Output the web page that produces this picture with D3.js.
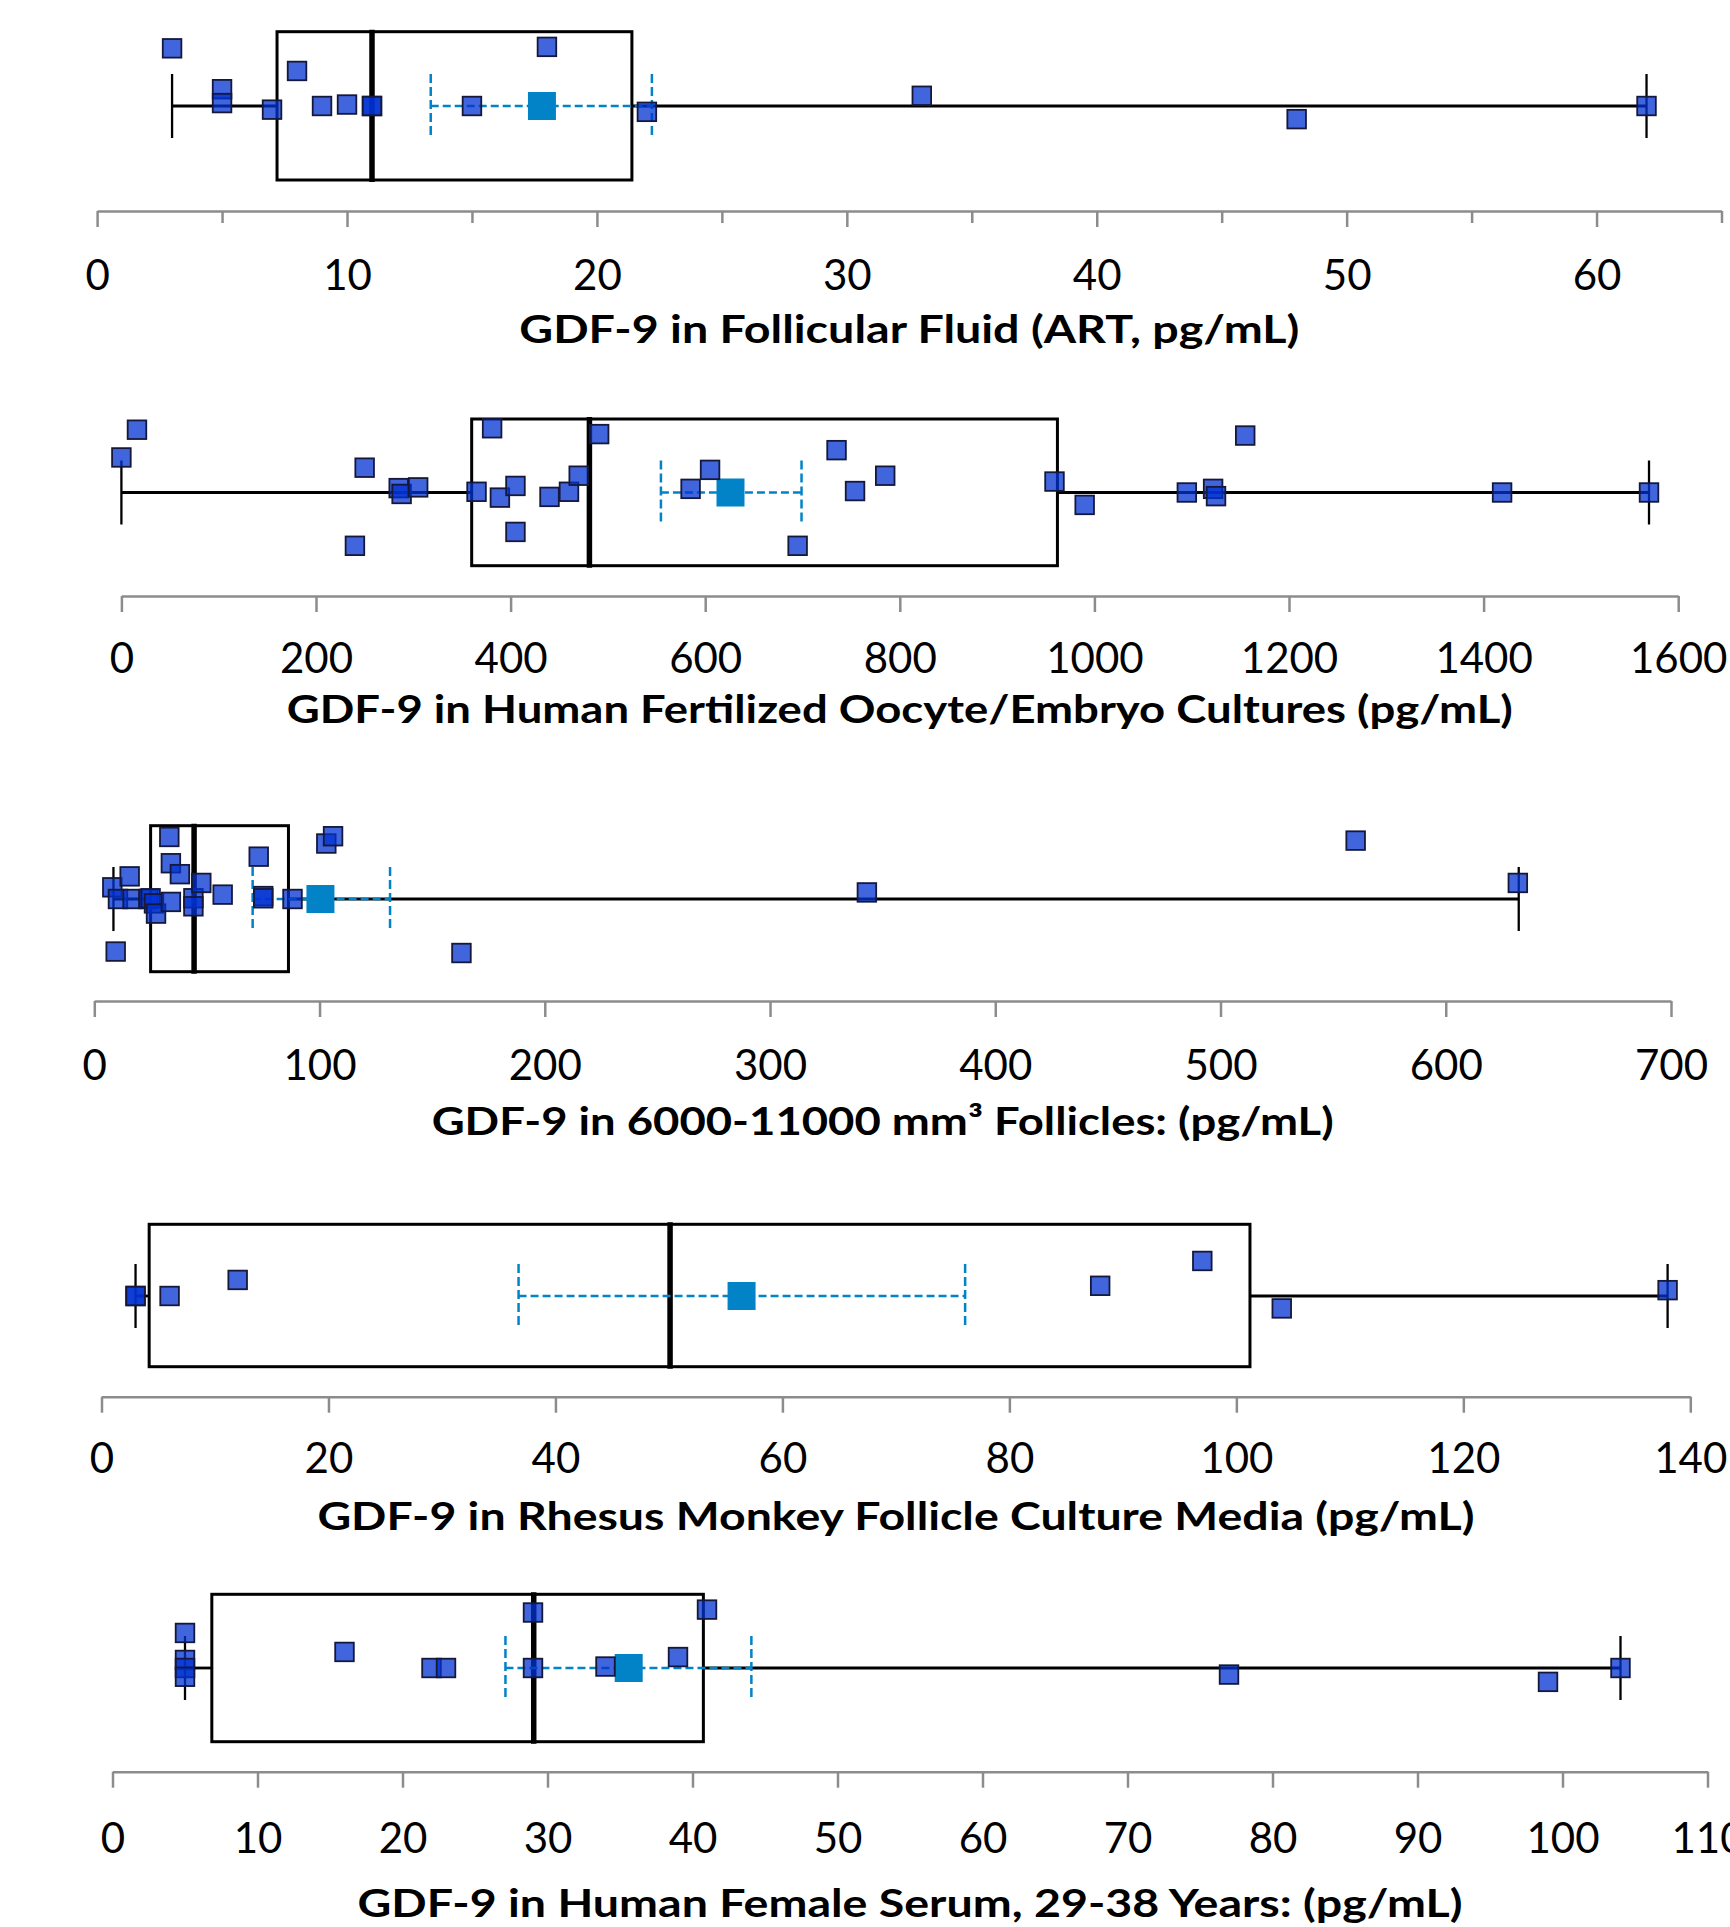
<!DOCTYPE html>
<html><head><meta charset="utf-8">
<script src="https://cdn.jsdelivr.net/npm/d3@7"></script>
<style>html,body{margin:0;padding:0;background:#fff;} svg{display:block;}</style>
</head><body><svg id="chart" width="1730" height="1927"></svg>
<script>
// ---------- DATA ----------
// Panel 1: Follicular fluid (ART)
const ffTitle = "GDF-9 in Follicular Fluid (ART, pg/mL)";
const ffValues = [3,5,5,7,8,9,10,11,11,15,18,22,33,48,62];
const ffJitter = [-0.79,-0.23,-0.04,0.05,-0.48,0,-0.02,0,0,0,-0.81,0.08,-0.14,0.18,0];
const ffBox = [3, 7.2, 11, 21.4, 62];          // min, q1, median, q3, max
const ffMean = [13.35, 17.8, 22.2];            // lower, mean, upper
const ffTicks = [0,10,20,30,40,50,60];
const ffMinor = [5,15,25,35,45,55,65];

// Panel 2: Human fertilized oocyte / embryo cultures
const emTitle = "GDF-9 in Human Fertilized Oocyte/Embryo Cultures (pg/mL)";
const emValues = [0,16,240,250,285,288,305,365,381,389,405,405,440,460,470,491,585,605,695,735,754,785,959,990,1095,1122,1125,1155,1419,1570];
const emJitter = [-0.48,-0.86,0.73,-0.34,-0.06,0.02,-0.07,-0.01,-0.88,0.07,-0.09,0.54,0.06,-0.01,-0.23,-0.80,-0.05,-0.31,0.73,-0.58,-0.02,-0.23,-0.15,0.17,0,-0.05,0.05,-0.78,0,0];
const emBox = [0, 360, 481, 962, 1570];
const emMean = [554.5, 626, 699];
const emTicks = [0,200,400,600,800,1000,1200,1400,1600];

// Panel 3: 6000-11000 mm3 follicles
const foTitle = "GDF-9 in 6000-11000 mm\u00B3 Follicles: (pg/mL)";
const foValues = [8,9.5,10.5,15.7,17,24,25,26.5,27.4,33.3,34,34,38,44,44,47.5,57,73,75,75,88,103,106,163,343,560,632];
const foJitter = [-0.16,0.72,0,-0.31,0,0,-0.01,0.06,0.20,-0.85,-0.49,0.04,-0.34,-0.01,0.10,-0.22,-0.06,-0.58,-0.04,-0.01,0,-0.76,-0.86,0.74,-0.09,-0.80,-0.22];
const foBox = [8.5, 25, 44.3, 86.2, 632.4];
const foMean = [70.3, 100.4, 131.3];
const foTicks = [0,100,200,300,400,500,600,700];

// Panel 4: Rhesus monkey follicle culture media
const rmTitle = "GDF-9 in Rhesus Monkey Follicle Culture Media (pg/mL)";
const rmValues = [3,3,6,12,88,97,104,138];
const rmJitter = [0,0,0,-0.22,-0.14,-0.48,0.17,-0.08];
const rmBox = [3, 4.2, 50.1, 101.2, 138];
const rmMean = [36.75, 56.4, 76.1];
const rmTicks = [0,20,40,60,80,100,120,140];

// Panel 5: Human female serum, 29-38 years
const hsTitle = "GDF-9 in Human Female Serum, 29-38 Years: (pg/mL)";
const hsValues = [5,5,5,5,16,22,23,29,29,34,39,41,77,99,104];
const hsJitter = [-0.48,-0.11,0,0.12,-0.22,0,0,-0.76,0,-0.02,-0.15,-0.80,0.09,0.19,0];
const hsBox = [5, 6.85, 29.05, 40.75, 104];
const hsMean = [27.1, 35.6, 44.06];
const hsTicks = [0,10,20,30,40,50,60,70,80,90,100,110];

// ---------- LAYOUT ----------
const panels = [
  {title:ffTitle, values:ffValues, jitter:ffJitter, box:ffBox, mean:ffMean, domain:[0,65], ticks:ffTicks, minor:ffMinor,
   x0:97.1, x1:1721.5, axisY:211, cy:106, boxTop:31.7, boxBot:180, labelY:290, titleY:343, titleW:780},
  {title:emTitle, values:emValues, jitter:emJitter, box:emBox, mean:emMean, domain:[0,1600], ticks:emTicks, minor:[],
   x0:121.4, x1:1678.2, axisY:596, cy:492.5, boxTop:419, boxBot:565.7, labelY:673.3, titleY:723.3, titleW:1226},
  {title:foTitle, values:foValues, jitter:foJitter, box:foBox, mean:foMean, domain:[0,700], ticks:foTicks, minor:[],
   x0:94.3, x1:1671, axisY:1001, cy:899, boxTop:825.7, boxBot:971.7, labelY:1080, titleY:1135, titleW:902},
  {title:rmTitle, values:rmValues, jitter:rmJitter, box:rmBox, mean:rmMean, domain:[0,140], ticks:rmTicks, minor:[],
   x0:101.5, x1:1690.3, axisY:1396.7, cy:1296, boxTop:1224.3, boxBot:1366.7, labelY:1473.3, titleY:1530, titleW:1157},
  {title:hsTitle, values:hsValues, jitter:hsJitter, box:hsBox, mean:hsMean, domain:[0,110], ticks:hsTicks, minor:[],
   x0:112.5, x1:1707.5, axisY:1771.7, cy:1668, boxTop:1594.3, boxBot:1741.7, labelY:1853.3, titleY:1916.7, titleW:1105}
];

const svg = d3.select("#chart");
svg.append("rect").attr("width",1730).attr("height",1927).attr("fill","#fff");

const AXIS_COL = "#8c8c8c";
const MEAN_COL = "#0283c8";
const FONT = "Lato, 'Open Sans', sans-serif";

panels.forEach(p => {
  const x = d3.scaleLinear().domain(p.domain).range([p.x0, p.x1]);
  const jy = d3.scaleLinear().domain([-1,1]).range([p.cy-73, p.cy+73]);
  const g = svg.append("g");

  // axis (major)
  const ax = g.append("g").attr("transform", `translate(0,${p.axisY})`)
    .call(d3.axisBottom(x).tickValues(p.ticks).tickSize(16).tickSizeOuter(0).tickFormat(d3.format("d")));
  ax.select(".domain").attr("stroke", AXIS_COL).attr("stroke-width", 2.5);
  ax.selectAll(".tick line").attr("stroke", AXIS_COL).attr("stroke-width", 2.5);
  ax.selectAll(".tick text").attr("font-family", FONT).attr("font-size", 42).attr("fill", "#000")
    .attr("y", p.labelY - p.axisY).attr("dy", "0");
  // minor ticks
  if (p.minor.length) {
    const mx = g.append("g").attr("transform", `translate(0,${p.axisY})`)
      .call(d3.axisBottom(x).tickValues(p.minor).tickSize(12).tickSizeOuter(0).tickFormat(""));
    mx.select(".domain").remove();
    mx.selectAll(".tick line").attr("stroke", AXIS_COL).attr("stroke-width", 2.5);
  }
  // title
  g.append("text").attr("x", (p.x0 + p.x1) / 2).attr("y", p.titleY)
    .attr("text-anchor", "middle").attr("font-family", FONT).attr("font-weight", "bold")
    .attr("font-size", 39).attr("textLength", p.titleW).attr("lengthAdjust", "spacingAndGlyphs")
    .text(p.title);

  const [mn, q1, med, q3, mx2] = p.box;
  // box
  g.append("rect").attr("x", x(q1)).attr("y", p.boxTop).attr("width", x(q3) - x(q1))
    .attr("height", p.boxBot - p.boxTop).attr("fill", "none").attr("stroke", "#000").attr("stroke-width", 3);
  // median
  g.append("line").attr("x1", x(med)).attr("x2", x(med)).attr("y1", p.boxTop - 2).attr("y2", p.boxBot + 2)
    .attr("stroke", "#000").attr("stroke-width", 5.5);
  // whiskers
  g.append("line").attr("x1", x(mn)).attr("x2", x(q1)).attr("y1", p.cy).attr("y2", p.cy)
    .attr("stroke", "#000").attr("stroke-width", 2.8);
  g.append("line").attr("x1", x(q3)).attr("x2", x(mx2)).attr("y1", p.cy).attr("y2", p.cy)
    .attr("stroke", "#000").attr("stroke-width", 2.8);
  [mn, mx2].forEach(v => {
    g.append("line").attr("x1", x(v)).attr("x2", x(v)).attr("y1", p.cy - 32).attr("y2", p.cy + 32)
      .attr("stroke", "#000").attr("stroke-width", 2.3);
  });
  // mean error bar
  const [lo, mean, hi] = p.mean;
  g.append("line").attr("x1", x(lo)).attr("x2", x(hi)).attr("y1", p.cy).attr("y2", p.cy)
    .attr("stroke", MEAN_COL).attr("stroke-width", 2.7).attr("stroke-dasharray", "8,4");
  [lo, hi].forEach(v => {
    g.append("line").attr("x1", x(v)).attr("x2", x(v)).attr("y1", p.cy - 32).attr("y2", p.cy + 32)
      .attr("stroke", MEAN_COL).attr("stroke-width", 2.5).attr("stroke-dasharray", "9,4");
  });
  // mean marker
  g.append("rect").attr("x", x(mean) - 14).attr("y", p.cy - 14).attr("width", 28).attr("height", 28)
    .attr("fill", MEAN_COL);
  // points
  g.selectAll("rect.pt").data(p.values.map((v, i) => ({v, j: p.jitter[i]}))).join("rect")
    .attr("class", "pt")
    .attr("x", d => x(d.v) - 9.3).attr("y", d => jy(d.j) - 9.3).attr("width", 18.6).attr("height", 18.6)
    .attr("fill", "rgb(0,50,210)").attr("fill-opacity", 0.75)
    .attr("stroke", "#15183a").attr("stroke-width", 1.8);
});
</script></body></html>
